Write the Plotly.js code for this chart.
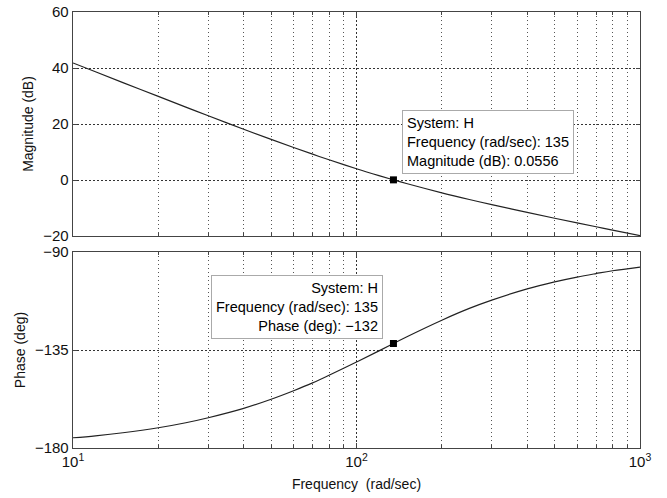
<!DOCTYPE html>
<html>
<head>
<meta charset="utf-8">
<script src="https://cdn.plot.ly/plotly-3.0.1.min.js"></script>
<style>html,body{margin:0;padding:0;background:#fff;}#plot{width:667px;height:498px;}</style>
</head>
<body>
<div id="plot"></div>
<script>
// Data
var freq = [10,12,15,20,25,30,40,50,60,70,80,100,120,135,150,200,250,300,400,500,600,700,800,1000];
var magDb = [41.81,38.65,34.80,29.85,26.04,22.95,18.14,14.50,11.60,9.22,7.22,4.02,1.57,0.06,-1.24,-4.57,-6.95,-8.79,-11.57,-13.65,-15.30,-16.68,-17.88,-19.85];
var phaseDeg = [-175.3,-174.4,-173.0,-170.7,-168.4,-166.1,-161.8,-157.6,-153.7,-150.1,-146.6,-140.5,-135.4,-132.0,-129.0,-121.3,-115.9,-112.1,-106.9,-103.7,-101.5,-99.9,-98.6,-96.9];
var markFreq = [135];
var markMag = [0.0556];
var markPhase = [-132];
var decadeVals = [10,100,1000];
var decadeText = ['10<sup>1</sup>','10<sup>2</sup>','10<sup>3</sup>'];
var minorFreq = [20,30,40,50,60,70,80,90,200,300,400,500,600,700,800,900];
var magTicks = [-20,0,20,40,60];
var magTickText = ['\u221220','0','20','40','60'];
var phaseTicks = [-180,-135,-90];
var phaseTickText = ['\u2212180','\u2212135','\u221290'];
var tip1 = ['System: H','Frequency (rad/sec): 135','Magnitude (dB): 0.0556'];
var tip2 = ['System: H','Frequency (rad/sec): 135','Phase (deg): \u2212132'];

var fontFam = 'Liberation Sans, Arial, Helvetica, sans-serif';
var lineCol = '#444';

var traces = [
  {x: freq, y: magDb, xaxis:'x', yaxis:'y', mode:'lines', line:{color:'#222', width:1.2, shape:'spline'}, hoverinfo:'none'},
  {x: markFreq, y: markMag, xaxis:'x', yaxis:'y', mode:'markers', marker:{symbol:'square', color:'#000', size:7}, hoverinfo:'none'},
  {x: freq, y: phaseDeg, xaxis:'x2', yaxis:'y2', mode:'lines', line:{color:'#222', width:1.2, shape:'spline'}, hoverinfo:'none'},
  {x: markFreq, y: markPhase, xaxis:'x2', yaxis:'y2', mode:'markers', marker:{symbol:'square', color:'#000', size:7}, hoverinfo:'none'}
];

function xAxis(showLabels, anchor){
  return {
    type:'log', range:[1,3], anchor:anchor, domain:[0,1],
    tickmode:'array', tickvals:decadeVals, ticktext:decadeText,
    showticklabels:showLabels,
    ticks:'inside', ticklen:5, tickcolor:lineCol, tickwidth:1,
    minor:{tickmode:'array', tickvals:minorFreq, ticks:'inside', ticklen:3, tickcolor:lineCol,
           showgrid:true, gridcolor:'#555', gridwidth:1, griddash:'1px,3px'},
    showline:true, linecolor:lineCol, linewidth:1.3, mirror:'ticks',
    showgrid:true, gridcolor:'#333', gridwidth:1, griddash:'2px,2px',
    zeroline:false, fixedrange:true,
    tickfont:{family:fontFam, size:15, color:'#111'}
  };
}
function yAxis(range, tv, tt, title, domain, anchor){
  return {
    range:range, domain:domain, anchor:anchor,
    tickmode:'array', tickvals:tv, ticktext:tt,
    ticks:'inside', ticklen:4, tickcolor:lineCol,
    showline:true, linecolor:lineCol, linewidth:1.3, mirror:'ticks',
    showgrid:true, gridcolor:'#333', gridwidth:1, griddash:'2px,2px',
    zeroline:false, fixedrange:true,
    tickfont:{family:fontFam, size:15, color:'#111'},
    title:{text:title, font:{family:fontFam, size:14, color:'#111'}, standoff:6}
  };
}

var x1 = xAxis(false,'y');
var x2 = xAxis(true,'y2');
x2.title = {text:'Frequency  (rad/sec)', font:{family:fontFam, size:14, color:'#111'}, standoff:10};

var layout = {
  width:667, height:498,
  margin:{l:73, r:27, t:12, b:50},
  paper_bgcolor:'#fff', plot_bgcolor:'#fff',
  showlegend:false,
  xaxis:x1,
  yaxis:yAxis([-20,60], magTicks, magTickText, 'Magnitude (dB)', [0.4862,1], 'x'),
  xaxis2:x2,
  yaxis2:yAxis([-180,-90], phaseTicks, phaseTickText, 'Phase (deg)', [0,0.4495], 'x2'),
  annotations:[
    {xref:'paper', yref:'paper', x:0.580, y:0.775, xanchor:'left', yanchor:'top', showarrow:false,
     text:tip1.join('<br>'), align:'left', bgcolor:'#fff', bordercolor:'#aaa', borderwidth:1, borderpad:4,
     font:{family:fontFam, size:14.5, color:'#000'}},
    {xref:'paper', yref:'paper', x:0.5467, y:0.3968, xanchor:'right', yanchor:'top', showarrow:false,
     text:tip2.join('<br>'), align:'right', bgcolor:'#fff', bordercolor:'#aaa', borderwidth:1, borderpad:4,
     font:{family:fontFam, size:14.5, color:'#000'}}
  ]
};

Plotly.newPlot('plot', traces, layout, {displayModeBar:false, staticPlot:true});
</script>
</body>
</html>
